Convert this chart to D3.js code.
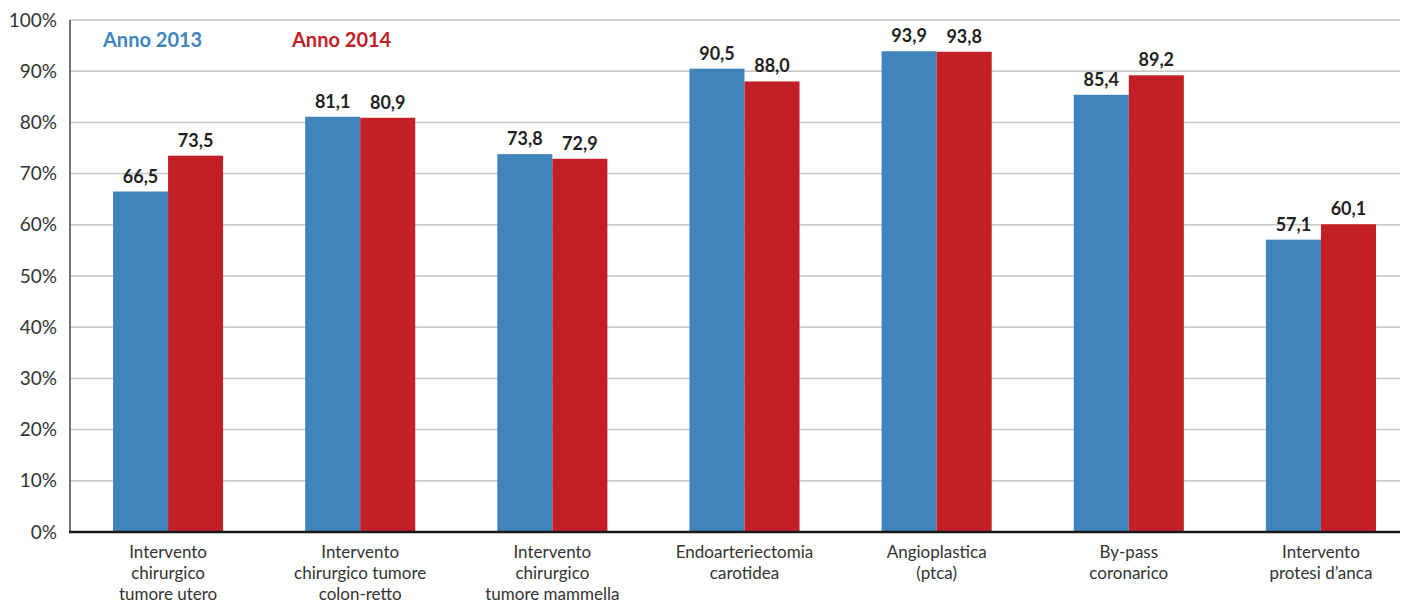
<!DOCTYPE html>
<html>
<head>
<meta charset="utf-8">
<script src="https://cdn.jsdelivr.net/npm/d3@7"></script>
<style>
  body { margin: 0; background: #fff; }
  svg text { font-family: Lato, "Open Sans", sans-serif; }
</style>
</head>
<body>
<svg id="chart"></svg>
<script>
// Categories (each label split into lines)
const categories = [
  ["Intervento", "chirurgico", "tumore utero"],
  ["Intervento", "chirurgico tumore", "colon-retto"],
  ["Intervento", "chirurgico", "tumore mammella"],
  ["Endoarteriectomia", "carotidea"],
  ["Angioplastica", "(ptca)"],
  ["By-pass", "coronarico"],
  ["Intervento", "protesi d\u2019anca"]
];
const series = ["Anno 2013", "Anno 2014"];
const values2013 = [66.5, 81.1, 73.8, 90.5, 93.9, 85.4, 57.1];
const values2014 = [73.5, 80.9, 72.9, 88.0, 93.8, 89.2, 60.1];
const yTicks = [0, 10, 20, 30, 40, 50, 60, 70, 80, 90, 100];

const colors = ["#4084bc", "#c22026"];
const width = 1401, height = 606;
const plotLeft = 70, plotRight = 1400, plotTop = 20, plotBottom = 532;

const svg = d3.select('#chart')
  .attr('width', width)
  .attr('height', height);

const keys = categories.map((c, i) => i);

const x0 = d3.scaleBand()
  .domain(keys)
  .range([72, 1417])
  .paddingInner(0.4271)
  .paddingOuter(0.2135);

const x1 = d3.scaleBand()
  .domain([0, 1])
  .range([0, x0.bandwidth()]);

const y = d3.scaleLinear()
  .domain([0, 100])
  .range([plotBottom, plotTop]);

// gridlines
svg.append('g')
  .selectAll('line')
  .data(yTicks.filter(t => t > 0))
  .enter().append('line')
  .attr('x1', plotLeft)
  .attr('x2', plotRight)
  .attr('y1', d => y(d))
  .attr('y2', d => y(d))
  .attr('stroke', '#c6c6c6')
  .attr('stroke-width', 1.5);

// y axis labels
const yAxis = svg.append('g')
  .attr('transform', `translate(${plotLeft},0)`)
  .call(d3.axisLeft(y).tickValues(yTicks).tickFormat(d => d + '%').tickSize(0).tickPadding(13));
yAxis.select('.domain').remove();
yAxis.selectAll('text')
  .attr('font-size', 19)
  .attr('fill', '#333')
  .style('font-family', 'Lato, sans-serif');

// bars
const rows = keys.map(i => ({ i, vals: [values2013[i], values2014[i]] }));

const groups = svg.append('g')
  .selectAll('g')
  .data(rows)
  .enter().append('g')
  .attr('transform', d => `translate(${x0(d.i)},0)`);

groups.selectAll('rect')
  .data(d => d.vals.map((v, s) => ({ v, s })))
  .enter().append('rect')
  .attr('x', d => x1(d.s))
  .attr('y', d => y(d.v))
  .attr('width', x1.bandwidth())
  .attr('height', d => y(0) - y(d.v))
  .attr('fill', d => colors[d.s]);

groups.selectAll('text.val')
  .data(d => d.vals.map((v, s) => ({ v, s })))
  .enter().append('text')
  .attr('class', 'val')
  .attr('x', d => x1(d.s) + x1.bandwidth() / 2)
  .attr('y', d => y(d.v) - 9)
  .attr('text-anchor', 'middle')
  .attr('font-size', 18)
  .attr('font-weight', 'bold')
  .attr('fill', '#231f20')
  .text(d => d3.format('.1f')(d.v).replace('.', ','));

// axis lines
svg.append('line')
  .attr('x1', plotLeft).attr('x2', plotLeft)
  .attr('y1', plotTop).attr('y2', plotBottom)
  .attr('stroke', '#444').attr('stroke-width', 1.5);
svg.append('line')
  .attr('x1', plotLeft - 1).attr('x2', plotRight)
  .attr('y1', plotBottom).attr('y2', plotBottom)
  .attr('stroke', '#1a1a1a').attr('stroke-width', 2.5);

// category labels
const catLabels = svg.append('g')
  .selectAll('text')
  .data(rows)
  .enter().append('text')
  .attr('x', d => x0(d.i) + x0.bandwidth() / 2)
  .attr('y', 558)
  .attr('text-anchor', 'middle')
  .attr('font-size', 17)
  .attr('fill', '#333');
catLabels.selectAll('tspan')
  .data(d => categories[d.i])
  .enter().append('tspan')
  .attr('x', function() { return d3.select(this.parentNode).attr('x'); })
  .attr('dy', (d, k) => k === 0 ? 0 : 21)
  .text(d => d);

// legend
const legendX = [103, 292];
svg.append('g')
  .selectAll('text')
  .data(series)
  .enter().append('text')
  .attr('x', (d, i) => legendX[i])
  .attr('y', 47)
  .attr('font-size', 20)
  .attr('font-weight', 'bold')
  .attr('fill', (d, i) => colors[i])
  .text(d => d);
</script>
</body>
</html>
